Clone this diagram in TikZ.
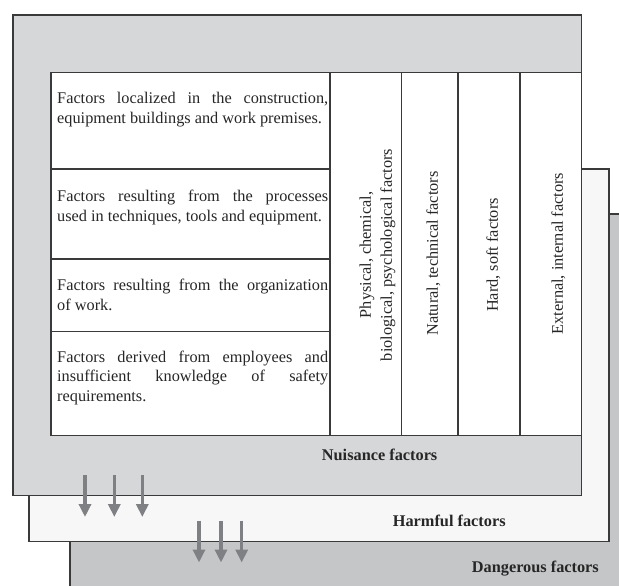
\documentclass[tikz,border=0pt]{standalone}
\usepackage{fontspec}
\setmainfont{Liberation Serif}
\usetikzlibrary{arrows.meta}
\definecolor{nuisfill}{HTML}{D6D7D9}
\definecolor{harmfill}{HTML}{F7F7F7}
\definecolor{dangfill}{HTML}{C5C6C8}
\definecolor{edge}{HTML}{3A3A3A}
\definecolor{ink}{HTML}{262626}
\definecolor{arrowgray}{HTML}{7F8083}
\newcommand\rowfontsetup{\fontsize{16.3}{19.5}\selectfont\hyphenpenalty=10000\relax\tolerance=10000\relax}
\begin{document}
\begin{tikzpicture}[x=1pt,y=-1pt,
  layer/.style={draw=edge, line width=1.2pt},
  cellline/.style={draw=edge, line width=1.1pt},
  rowtext/.style={anchor=north west, inner sep=0pt, text width=271pt, align=justify,
    font=\rowfontsetup, text=ink},
  coltext/.style={rotate=90, inner sep=0pt, align=center,
    font=\fontsize{16.3}{21}\selectfont, text=ink},
  levellabel/.style={anchor=base west, inner sep=0pt,
    font=\fontsize{16.3}{19}\selectfont\bfseries, text=ink},
  flow/.style={draw=arrowgray, line width=3.3pt, -{Triangle[length=13pt,width=12pt]}}
]
\useasboundingbox (0,0) rectangle (619,586);
\clip (0,0) rectangle (619,586);

% layers, back to front
\path[layer, fill=dangfill] (70,214) rectangle (640,600);
\path[layer, fill=harmfill] (29,169) rectangle (609,541.5);
\path[layer, fill=nuisfill] (13,15) rectangle (581.5,495.5);

% table
\path[cellline, fill=white] (51,72.7) rectangle (581.5,435.7);
\foreach \yy in {169,259,331.7} \draw[cellline] (51,\yy) -- (330,\yy);
\foreach \xx in {330,401.5,458,520} \draw[cellline] (\xx,72.7) -- (\xx,435.7);

% row texts
\node[rowtext] (r1) at (57,92.4) {Factors localized in the construction,\linebreak equipment buildings and work premises.};
\node[rowtext] (r2) at (57,190) {Factors resulting from the processes\linebreak used in techniques, tools and equipment.};
\node[rowtext] (r3) at (57,279) {Factors resulting from the organization\linebreak of work.};
\node[rowtext] (r4) at (57,350.8) {Factors derived from employees and\linebreak insufficient knowledge of safety\linebreak requirements.};

% column texts
\node[coltext] (c1) at (377.5,255) {Physical, chemical,\\ biological, psychological factors};
\node[coltext] (c2) at (433.3,253.5) {Natural, technical factors};
\node[coltext] (c3) at (493.3,255) {Hard, soft factors};
\node[coltext] (c4) at (558.3,253.5) {External, internal factors};

% level labels
\node[levellabel] (nuis) at (321.7,460) {Nuisance factors};
\node[levellabel] (harm) at (392.7,526.7) {Harmful factors};
\node[levellabel] (dang) at (471.7,572.7) {Dangerous factors};

% arrows
\foreach \xx [count=\i] in {85,114.3,142.3} {
  \coordinate (s\i) at (\xx,475);
  \coordinate (e\i) at (\xx,517);
  \draw[flow] (s\i) -- (e\i);
}
\foreach \xx [count=\i] in {199,221,241.7} {
  \coordinate (t\i) at (\xx,520.5);
  \coordinate (f\i) at (\xx,562.5);
  \draw[flow] (t\i) -- (f\i);
}
\end{tikzpicture}
\end{document}
